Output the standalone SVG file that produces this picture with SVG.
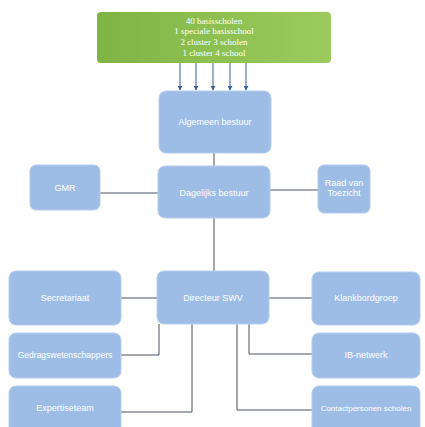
<svg xmlns="http://www.w3.org/2000/svg" width="425" height="427" viewBox="0 0 425 427">
<defs>
<linearGradient id="g" x1="0" y1="0" x2="1" y2="0">
<stop offset="0" stop-color="#7fb545"/>
<stop offset="1" stop-color="#9bcb5c"/>
</linearGradient>
<marker id="a" viewBox="0 0 6 6" refX="5" refY="3" markerWidth="5" markerHeight="5" orient="auto">
<path d="M0,0 L6,3 L0,6 z" fill="#3d5f93"/>
</marker>
<style>
.b{fill:#9ebde6;stroke:#b4cdee;stroke-width:1}
.t{font-family:"Liberation Sans",Arial,sans-serif;font-size:9px;fill:#ffffff;text-anchor:middle}
.s{font-family:"Liberation Serif","Times New Roman",serif;font-size:9px;fill:#ffffff;text-anchor:middle}
.c{fill:none;stroke:#4a505c;stroke-width:1}
.ar{fill:none;stroke:#3d5f93;stroke-width:1;marker-end:url(#a)}
</style>
</defs>
<rect width="425" height="427" fill="#ffffff"/>
<g id="connectors">
<line class="ar" x1="180" y1="63" x2="180" y2="90"/>
<line class="ar" x1="196" y1="63" x2="196" y2="90"/>
<line class="ar" x1="213" y1="63" x2="213" y2="90"/>
<line class="ar" x1="230" y1="63" x2="230" y2="90"/>
<line class="ar" x1="246" y1="63" x2="246" y2="90"/>
<line class="c" x1="214" y1="153" x2="214" y2="166"/>
<line class="c" x1="100" y1="193" x2="158" y2="193"/>
<line class="c" x1="270" y1="190" x2="318" y2="190"/>
<line class="c" x1="214" y1="218" x2="214" y2="271"/>
<line class="c" x1="121" y1="298" x2="157" y2="298"/>
<line class="c" x1="269" y1="298" x2="312" y2="298"/>
<polyline class="c" points="159,324 159,355 121,355"/>
<polyline class="c" points="192,324 192,412 121,412"/>
<polyline class="c" points="249,324 249,354 312,354"/>
<polyline class="c" points="237,324 237,410 312,410"/>
</g>
<g id="scholen">
<rect x="97" y="12" width="234" height="51" rx="4" fill="url(#g)"/>
<text class="s" x="214" y="24">40 basisscholen</text>
<text class="s" x="214" y="34">1 speciale basisschool</text>
<text class="s" x="214" y="45">2 cluster 3 scholen</text>
<text class="s" x="214" y="56">1 cluster 4 school</text>
</g>
<g id="algemeen-bestuur">
<rect class="b" x="159" y="91" width="112" height="62" rx="7"/>
<text class="t" x="215" y="125">Algemeen bestuur</text>
</g>
<g id="dagelijks-bestuur">
<rect class="b" x="158" y="166" width="112" height="52" rx="7"/>
<text class="t" x="214" y="196">Dagelijks bestuur</text>
</g>
<g id="gmr">
<rect class="b" x="30" y="165" width="70" height="45" rx="6"/>
<text class="t" x="65" y="191">GMR</text>
</g>
<g id="raad-van-toezicht">
<rect class="b" x="318" y="165" width="52" height="48" rx="6"/>
<text class="t" x="344" y="186">Raad van</text>
<text class="t" x="344" y="196">Toezicht</text>
</g>
<g id="directeur-swv">
<rect class="b" x="157" y="271" width="112" height="53" rx="7"/>
<text class="t" x="213" y="301">Directeur SWV</text>
</g>
<g id="secretariaat">
<rect class="b" x="9" y="271" width="112" height="54" rx="7"/>
<text class="t" x="65" y="301">Secretariaat</text>
</g>
<g id="gedragswetenschappers">
<rect class="b" x="9" y="333" width="112" height="45" rx="7"/>
<text class="t" x="65" y="358" style="font-size:8.5px">Gedragswetenschappers</text>
</g>
<g id="expertiseteam">
<rect class="b" x="9" y="386" width="112" height="50" rx="7"/>
<text class="t" x="65" y="411">Expertiseteam</text>
</g>
<g id="klankbordgroep">
<rect class="b" x="312" y="272" width="108" height="53" rx="7"/>
<text class="t" x="366" y="301">Klankbordgroep</text>
</g>
<g id="ib-netwerk">
<rect class="b" x="312" y="333" width="108" height="45" rx="7"/>
<text class="t" x="366" y="358">IB-netwerk</text>
</g>
<g id="contactpersonen">
<rect class="b" x="312" y="386" width="108" height="50" rx="7"/>
<text class="t" x="366" y="411" style="font-size:8px">Contactpersonen scholen</text>
</g>
</svg>
